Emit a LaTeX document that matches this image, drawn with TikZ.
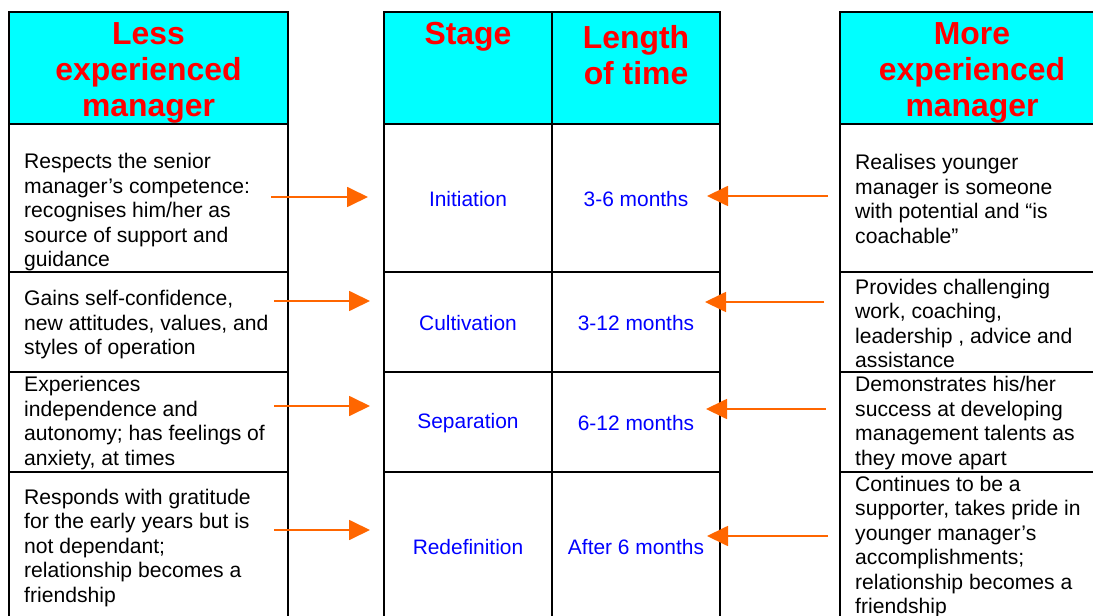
\documentclass[tikz,border=0pt]{standalone}
\usepackage{fontspec}
\setmainfont{Liberation Sans}
\usetikzlibrary{arrows.meta}
\definecolor{hdrcyan}{HTML}{00FFFF}
\definecolor{hdrred}{HTML}{FF0000}
\definecolor{stageblue}{HTML}{0000FF}
\definecolor{arrorange}{HTML}{FF6600}
\begin{document}
\begin{tikzpicture}[x=1bp,y=-1bp,
  gridline/.style={line width=1.8bp, draw=black},
  hdr/.style={font=\fontsize{32}{36}\selectfont\bfseries, text=hdrred, align=center, inner sep=0pt},
  body/.style={font=\fontsize{21.2}{24.6}\selectfont, align=left, anchor=west, inner sep=0pt},
  stg/.style={font=\fontsize{21}{25}\selectfont, text=stageblue, inner sep=0pt},
  arr/.style={draw=arrorange, line width=1.8bp, -{Triangle[length=21bp,width=20bp]}}]
\useasboundingbox (0,0) rectangle (1093,616);
\clip (0,0) rectangle (1093,616);
% header fills
\fill[hdrcyan] (9,12) rectangle (288,124);
\fill[hdrcyan] (384,12) rectangle (720,124);
\fill[hdrcyan] (840,12) rectangle (1110,124);
% grid: left column
\draw[gridline] (9,630) -- (9,12) -- (288,12) -- (288,630);
\foreach \yy in {124,272,372,472} \draw[gridline] (9,\yy) -- (288,\yy);
% grid: middle table
\draw[gridline] (384,630) -- (384,12) -- (720,12) -- (720,630);
\draw[gridline] (552,12) -- (552,630);
\foreach \yy in {124,272,372,472} \draw[gridline] (384,\yy) -- (720,\yy);
% grid: right column
\draw[gridline] (840,630) -- (840,12) -- (1110,12);
\foreach \yy in {124,272,372,472} \draw[gridline] (840,\yy) -- (1110,\yy);
% headers
\node[hdr] (hL) at (148.5,73) {Less\\experienced\\manager};
\node[hdr] (hS) at (468,37) {Stage};
\node[hdr] (hT) at (636,55) {Length\\of time};
\node[hdr] (hR) at (972,73) {More\\experienced\\manager};
% left texts
\node[body] (l1) at (24,212.5) {Respects the senior\\manager’s competence:\\recognises him/her as\\source of support and\\guidance};
\node[body] (l2) at (24,325) {Gains self-confidence,\\new attitudes, values, and\\styles of operation};
\node[body] (l3) at (24,423) {Experiences\\independence and\\autonomy; has feelings of\\anxiety, at times};
\node[body] (l4) at (24,548) {Responds with gratitude\\for the early years but is\\not dependant;\\relationship becomes a\\friendship};
% stages
\node[stg] (s1) at (468,199) {Initiation};
\node[stg] (s2) at (468,323) {Cultivation};
\node[stg] (s3) at (468,423) {Separation};
\node[stg] (s4) at (468,547) {Redefinition};
\node[stg] (t1) at (636,199) {3-6 months};
\node[stg] (t2) at (636,323) {3-12 months};
\node[stg] (t3) at (636,423) {6-12 months};
\node[stg] (t4) at (636,547) {After 6 months};
% right texts
\node[body] (r1) at (855,199) {Realises younger\\manager is someone\\with potential and “is\\coachable”};
\node[body] (r2) at (855,323.5) {Provides challenging\\work, coaching,\\leadership , advice and\\assistance};
\node[body] (r3) at (855,423) {Demonstrates his/her\\success at developing\\management talents as\\they move apart};
\node[body] (r4) at (855,547) {Continues to be a\\supporter, takes pride in\\younger manager’s\\accomplishments;\\relationship becomes a\\friendship};
% arrows
\coordinate (aL1s) at (271,197); \coordinate (aL1e) at (368,197);
\coordinate (aL2s) at (274,301); \coordinate (aL2e) at (370,301);
\coordinate (aL3s) at (274,406); \coordinate (aL3e) at (370,406);
\coordinate (aL4s) at (274,530); \coordinate (aL4e) at (370,530);
\coordinate (aR1s) at (828,196); \coordinate (aR1e) at (707,196);
\coordinate (aR2s) at (824,302); \coordinate (aR2e) at (705,302);
\coordinate (aR3s) at (826,409); \coordinate (aR3e) at (706,409);
\coordinate (aR4s) at (828,536); \coordinate (aR4e) at (707,536);
\foreach \a in {L1,L2,L3,L4,R1,R2,R3,R4} \draw[arr] (a\a s) -- (a\a e);
\end{tikzpicture}
\end{document}
